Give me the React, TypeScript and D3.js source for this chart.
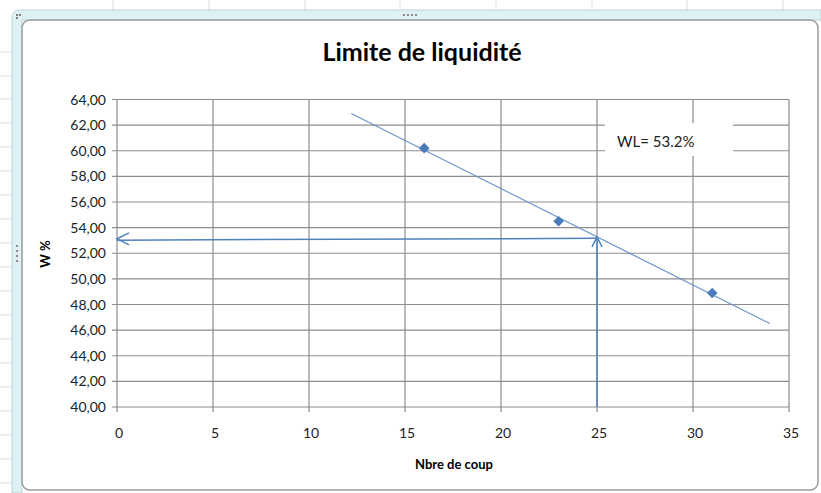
import * as d3 from "d3";
import React, { useEffect, useRef } from "react";

// nombre de coups / teneur en eau
const coups = [16, 23, 31];
const teneurs = [60.2, 54.5, 48.9];
const xTicks = [0, 5, 10, 15, 20, 25, 30, 35];
const yTicks = [40, 42, 44, 46, 48, 50, 52, 54, 56, 58, 60, 62, 64];
const trendRange = [12.2, 34];
const wlCoup = [25];
const wlLabel = ["WL= 53.2%"];

const App = () => {
  const svgRef = useRef<SVGSVGElement>(null);

  useEffect(() => {
    const width = 821;
    const height = 493;
    const svg = d3.select(svgRef.current).attr("width", width).attr("height", height);
    svg.selectAll("*").remove();

    const blue = "#4f81bd";
    const grid = "#8c8c8c";

    // fond feuille excel
    svg.append("rect").attr("width", width).attr("height", height).attr("fill", "#ffffff");
    const sheet = svg.append("g");
    [113, 209, 305, 400, 496, 592, 687, 783].forEach((x) => {
      sheet.append("line").attr("x1", x).attr("x2", x).attr("y1", 0).attr("y2", 12).attr("stroke", "#d9dde3");
    });
    [52, 76, 99, 123, 147, 171, 195, 219, 243, 267, 291, 315, 339, 363, 387, 411, 435, 459, 483].forEach((y) => {
      sheet.append("line").attr("x1", 0).attr("x2", 12).attr("y1", y).attr("y2", y).attr("stroke", "#d9dde3");
    });

    // cadre de sélection
    svg.append("path")
      .attr("d", "M12,493 L12,18 Q12,10 20,10 L821,10 L821,20 L22,20 L22,493 Z")
      .attr("fill", "#dff1f4")
      .attr("stroke", "#bcd3d8");
    svg.append("rect")
      .attr("x", 22).attr("y", 20).attr("width", 796).attr("height", 470)
      .attr("rx", 8).attr("fill", "#ffffff").attr("stroke", "#9a9a9a").attr("stroke-width", 1.5);
    [[17, 15], [20, 15], [17, 18]].forEach(([x, y]) => {
      svg.append("rect").attr("x", x - 1).attr("y", y - 1).attr("width", 2).attr("height", 2).attr("fill", "#7f7f7f");
    });
    [0, 1, 2, 3].forEach((i) => {
      svg.append("rect").attr("x", 403 + i * 4).attr("y", 14).attr("width", 2).attr("height", 2).attr("fill", "#8c8c8c");
      svg.append("rect").attr("x", 16).attr("y", 245 + i * 5).attr("width", 2).attr("height", 2).attr("fill", "#8c8c8c");
    });

    const x = d3.scaleLinear().domain([0, 35]).range([117, 789]);
    const y = d3.scaleLinear().domain([40, 64]).range([407, 99.5]);
    const fmt = (v: number) => d3.format(".2f")(v).replace(".", ",");
    const font = "Lato, 'Open Sans', sans-serif";

    // grille
    const g = svg.append("g");
    g.selectAll(".hg").data(yTicks).join("line")
      .attr("x1", x(0) - 5).attr("x2", x(35))
      .attr("y1", (d) => y(d)).attr("y2", (d) => y(d))
      .attr("stroke", grid).attr("stroke-width", 1.2);
    g.selectAll(".vg").data(xTicks).join("line")
      .attr("x1", (d) => x(d)).attr("x2", (d) => x(d))
      .attr("y1", y(64)).attr("y2", y(40) + 5)
      .attr("stroke", grid).attr("stroke-width", 1.2);

    g.selectAll(".yl").data(yTicks).join("text")
      .attr("x", x(0) - 11).attr("y", (d) => y(d) + 5)
      .attr("text-anchor", "end").attr("font-family", font).attr("font-size", 14)
      .attr("fill", "#222").text((d) => fmt(d));
    g.selectAll(".xl").data(xTicks).join("text")
      .attr("x", (d) => x(d) + 2).attr("y", y(40) + 31)
      .attr("text-anchor", "middle").attr("font-family", font).attr("font-size", 14)
      .attr("fill", "#222").text((d) => d);

    // titres
    svg.append("text").attr("x", 422).attr("y", 61).attr("text-anchor", "middle")
      .attr("font-family", font).attr("font-weight", "bold").attr("font-size", 25)
      .attr("fill", "#000").text("Limite de liquidité");
    svg.append("text").attr("x", 454).attr("y", 469).attr("text-anchor", "middle")
      .attr("font-family", font).attr("font-weight", "bold").attr("font-size", 13)
      .attr("fill", "#000").text("Nbre de coup");
    svg.append("text").attr("transform", "translate(50,254) rotate(-90)").attr("text-anchor", "middle")
      .attr("font-family", font).attr("font-weight", "bold").attr("font-size", 13)
      .attr("fill", "#000").text("W %");

    // courbe de tendance linéaire (moindres carrés)
    const mx = d3.mean(coups) as number;
    const my = d3.mean(teneurs) as number;
    const sxy = d3.sum(coups, (c, i) => (c - mx) * (teneurs[i] - my));
    const sxx = d3.sum(coups, (c) => (c - mx) ** 2);
    const slope = sxy / sxx;
    const trend = (v: number) => my + slope * (v - mx);
    const line = d3.line<number>().x((d) => x(d)).y((d) => y(trend(d)));
    g.append("path").datum(trendRange).attr("d", line)
      .attr("fill", "none").attr("stroke", "#6d93c9").attr("stroke-width", 1.2);

    // points
    g.selectAll(".pt").data(coups).join("path")
      .attr("transform", (d, i) => `translate(${x(d)},${y(teneurs[i])})`)
      .attr("d", d3.symbol().type(d3.symbolDiamond2).size(72)())
      .attr("fill", "#4a7bbc");

    // flèches de lecture
    const wl = trend(wlCoup[0]);
    const arrows = svg.append("g").attr("stroke", blue).attr("stroke-width", 1.5).attr("fill", "none");
    arrows.append("line")
      .attr("x1", x(wlCoup[0])).attr("x2", x(wlCoup[0]))
      .attr("y1", y(40)).attr("y2", y(wl));
    arrows.append("polyline")
      .attr("points", `${x(wlCoup[0]) - 5},${y(wl) + 10} ${x(wlCoup[0])},${y(wl)} ${x(wlCoup[0]) + 5},${y(wl) + 10}`);
    arrows.append("line")
      .attr("x1", x(wlCoup[0])).attr("x2", x(0))
      .attr("y1", y(wl) + 1.5).attr("y2", y(wl - 0.1) + 2);
    arrows.append("polyline")
      .attr("points", `${x(0) + 12},${y(wl) - 4} ${x(0)},${y(wl) + 2} ${x(0) + 12},${y(wl) + 8}`);

    // étiquette
    svg.append("rect").attr("x", 605).attr("y", 123).attr("width", 128).attr("height", 33).attr("fill", "#ffffff");
    svg.append("text").attr("x", 617).attr("y", 147)
      .attr("font-family", font).attr("font-size", 15).attr("fill", "#222").text(wlLabel[0]);
  }, []);

  return (
    <div style={{ position: "absolute", left: 0, top: 0 }}>
      <svg ref={svgRef} style={{ display: "block" }}></svg>
    </div>
  );
};

export default App;
